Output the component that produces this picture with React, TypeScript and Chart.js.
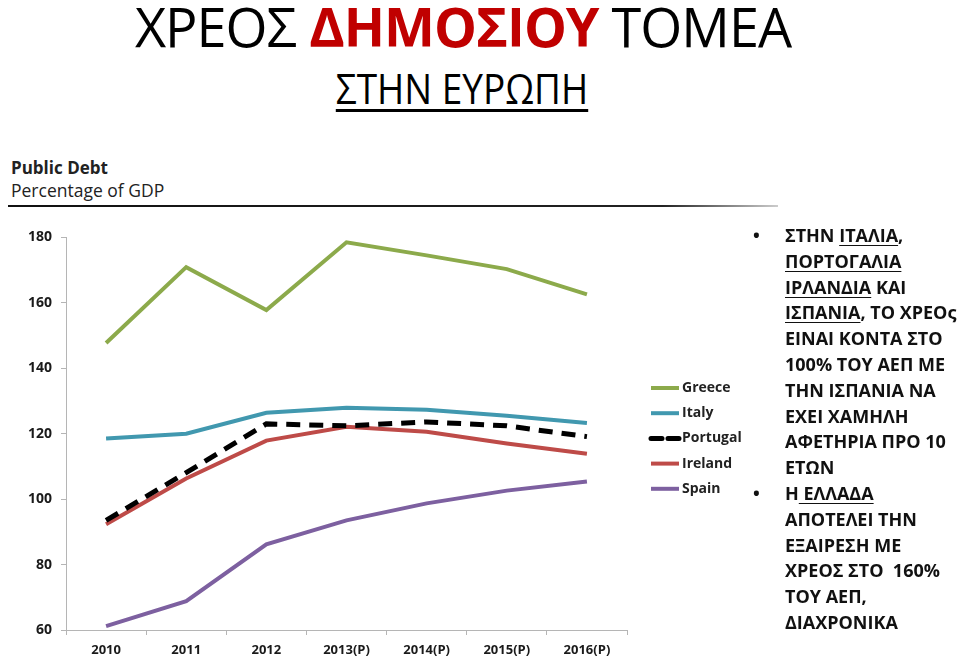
import React, { useEffect, useRef } from "react";
import { Chart, registerables } from "chart.js";

Chart.register(...registerables);

const years = ["2010", "2011", "2012", "2013(P)", "2014(P)", "2015(P)", "2016(P)"];
const greece = [147.7, 170.9, 157.8, 178.5, 174.5, 170.3, 162.6];
const italy = [118.5, 120.0, 126.4, 127.9, 127.3, 125.5, 123.3];
const portugal = [93.5, 108.1, 123.0, 122.4, 123.6, 122.4, 119.1];
const ireland = [92.3, 106.3, 117.9, 122.1, 120.6, 117.0, 113.9];
const spain = [61.2, 68.8, 86.2, 93.5, 98.7, 102.6, 105.4];
const seriesNames = ["Greece", "Italy", "Portugal", "Ireland", "Spain"];
const yTicks = [60, 80, 100, 120, 140, 160, 180];

const bulletLines1 = [
  [["ΣΤΗΝ ", false], ["ΙΤΑΛΙΑ", true], [",", false]],
  [["ΠΟΡΤΟΓΑΛΙΑ", true]],
  [["ΙΡΛΑΝΔΙΑ", true], [" ΚΑΙ", false]],
  [["ΙΣΠΑΝΙΑ", true], [", ΤΟ ΧΡΕΟς", false]],
  [["ΕΙΝΑΙ ΚΟΝΤΑ ΣΤΟ", false]],
  [["100% ΤΟΥ ΑΕΠ ΜΕ", false]],
  [["ΤΗΝ ΙΣΠΑΝΙΑ ΝΑ", false]],
  [["ΕΧΕΙ ΧΑΜΗΛΗ", false]],
  [["ΑΦΕΤΗΡΙΑ ΠΡΟ 10", false]],
  [["ΕΤΩΝ", false]],
] as [string, boolean][][];
const bulletLines2 = [
  [["Η", false], [" ΕΛΛΑΔΑ", true]],
  [["ΑΠΟΤΕΛΕΙ ΤΗΝ", false]],
  [["ΕΞΑΙΡΕΣΗ ΜΕ", false]],
  [["ΧΡΕΟΣ ΣΤΟ  160%", false]],
  [["ΤΟΥ ΑΕΠ,", false]],
  [["ΔΙΑΧΡΟΝΙΚΑ", false]],
] as [string, boolean][][];

const legendPlugin = {
  id: "sideLegend",
  afterDraw(chart: any) {
    const ctx = chart.ctx;
    const ds = chart.data.datasets;
    ctx.save();
    ds.forEach((d: any, i: number) => {
      const y = 168 + i * 25.2;
      const x0 = 651;
      ctx.beginPath();
      ctx.strokeStyle = d.borderColor;
      ctx.lineWidth = d.borderWidth;
      ctx.setLineDash(d.borderDash ? [11, 6] : []);
      ctx.lineCap = d.borderDash ? "round" : "butt";
      ctx.moveTo(x0, y);
      ctx.lineTo(x0 + 28, y);
      ctx.stroke();
      ctx.setLineDash([]);
      ctx.fillStyle = "#222";
      ctx.font = "bold 14px 'Open Sans', sans-serif";
      ctx.textBaseline = "middle";
      ctx.fillText(d.label, x0 + 31, y);
    });
    ctx.restore();
  },
};

function ChartCanvas() {
  const ref = useRef<HTMLCanvasElement | null>(null);
  useEffect(() => {
    if (!ref.current) return;
    const colors = ["#8CAA4B", "#4198AF", "#000000", "#BE4B48", "#7D60A0"];
    const values = [greece, italy, portugal, ireland, spain];
    const chart = new Chart(ref.current, {
      type: "line",
      data: {
        labels: years,
        datasets: values.map((v, i) => ({
          label: seriesNames[i],
          data: v,
          borderColor: colors[i],
          backgroundColor: colors[i],
          borderWidth: i === 2 ? 5 : 4,
          borderDash: i === 2 ? [14, 9] : undefined,
          pointRadius: 0,
          tension: 0,
          fill: false,
        })),
      },
      options: {
        animation: false,
        responsive: false,
        maintainAspectRatio: false,
        layout: { padding: { top: 16, right: 133, left: 0, bottom: 0 } },
        plugins: { legend: { display: false }, tooltip: { enabled: false } },
        scales: {
          x: {
            offset: true,
            grid: { offset: true, drawOnChartArea: false, drawTicks: true, tickLength: 5, color: "#b5b5b5" },
            border: { display: true, color: "#b5b5b5", width: 1 },
            ticks: {
              color: "#1a1a1a",
              font: { family: "'Open Sans', sans-serif", weight: "bold", size: 13 },
              padding: 7,
              maxRotation: 0,
            },
            afterFit(scale: any) {
              scale.height = 41;
            },
          },
          y: {
            min: 60,
            max: 180,
            afterBuildTicks(scale: any) {
              scale.ticks = yTicks.map((v) => ({ value: v }));
            },
            grid: { drawOnChartArea: false, drawTicks: true, tickLength: 5, color: "#b5b5b5" },
            border: { display: true, color: "#b5b5b5", width: 1 },
            ticks: {
              color: "#1a1a1a",
              font: { family: "'Open Sans', sans-serif", weight: "bold", size: 14 },
              padding: 9,
            },
            afterFit(scale: any) {
              scale.width = 66;
            },
          },
        },
      },
      plugins: [legendPlugin],
    } as any);
    return () => chart.destroy();
  }, []);
  return <canvas ref={ref} width={760} height={451} style={{ position: "absolute", left: 0, top: 220, width: 760, height: 451 }} />;
}

function Bullets() {
  const lh = 25.8;
  const font: React.CSSProperties = {
    fontFamily: "'Open Sans', sans-serif",
    fontWeight: 700,
    fontSize: 18,
    color: "#111",
    lineHeight: `${lh}px`,
    whiteSpace: "pre",
  };
  const renderLine = (parts: [string, boolean][], k: number) => (
    <div key={k}>
      {parts.map(([t, u], j) => (
        <span key={j} style={{ textDecoration: u ? "underline" : "none", textUnderlineOffset: 3 }}>
          {t}
        </span>
      ))}
    </div>
  );
  return (
    <div style={{ position: "absolute", left: 750, top: 223, width: 210, ...font }}>
      <div style={{ position: "relative", paddingLeft: 35 }}>
        <span style={{ position: "absolute", left: 3, top: 0 }}>•</span>
        {bulletLines1.map(renderLine)}
      </div>
      <div style={{ position: "relative", paddingLeft: 35 }}>
        <span style={{ position: "absolute", left: 3, top: 0 }}>•</span>
        {bulletLines2.map(renderLine)}
      </div>
    </div>
  );
}

export default function App() {
  return (
    <div style={{ position: "absolute", left: 0, top: 0, width: 960, height: 671, background: "#fff", overflow: "hidden" }}>
      <div
        style={{
          position: "absolute",
          left: 0,
          top: -6,
          width: 926,
          textAlign: "center",
          fontFamily: "'Open Sans', sans-serif",
          fontSize: 54,
          lineHeight: "64px",
          color: "#000",
          letterSpacing: -1,
        }}
      >
        ΧΡΕΟΣ <span style={{ color: "#C00000", fontWeight: 700 }}>ΔΗΜΟΣΙΟΥ</span> ΤΟΜΕΑ
      </div>
      <div
        style={{
          position: "absolute",
          left: 0,
          top: 64,
          width: 924,
          textAlign: "center",
          fontFamily: "'Open Sans', sans-serif",
          fontSize: 42,
          lineHeight: "48px",
          color: "#000",
          textDecoration: "underline",
          textDecorationThickness: 3,
          textUnderlineOffset: 5,
          transform: "scaleX(0.88)",
          transformOrigin: "462px 0",
        }}
      >
        ΣΤΗΝ ΕΥΡΩΠΗ
      </div>
      <div style={{ position: "absolute", left: 11, top: 157, fontFamily: "'Open Sans', sans-serif", color: "#222" }}>
        <div style={{ fontWeight: 700, fontSize: 17, lineHeight: "22px" }}>Public Debt</div>
        <div style={{ fontSize: 17.5, lineHeight: "22px" }}>Percentage of GDP</div>
      </div>
      <div
        style={{
          position: "absolute",
          left: 8,
          top: 205,
          width: 770,
          height: 2,
          background: "linear-gradient(to right, #111 0%, #222 85%, rgba(0,0,0,0.2) 100%)",
        }}
      />
      <ChartCanvas />
      <Bullets />
    </div>
  );
}
